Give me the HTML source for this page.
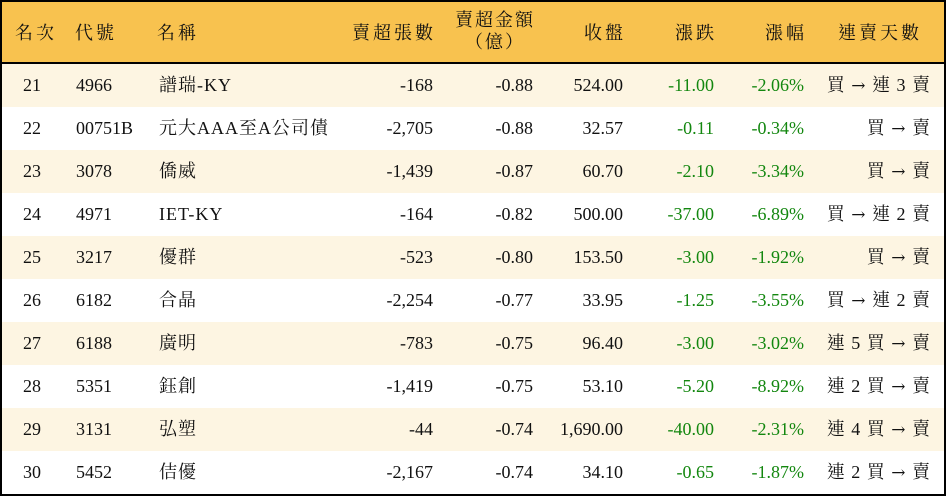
<!DOCTYPE html>
<html><head><meta charset="utf-8"><style>
body{margin:0;width:946px;height:496px;overflow:hidden;background:#fff;font-family:"Liberation Serif","Noto Serif CJK TC","Noto Serif CJK SC",serif;font-size:18px;color:#111}
.wrap{position:absolute;left:0;top:0;width:942px;height:492px;border:2px solid #000}
.hd{position:absolute;left:0;top:0;width:942px;height:60px;background:#f8c24f;border-bottom:2px solid #000}
.row{position:absolute;left:0;width:942px;height:43px}
.odd{background:#fdf5e2}
.c{position:absolute;top:0;line-height:43px;white-space:nowrap}
.hd .c{line-height:62px;letter-spacing:3px}
.hd .r{letter-spacing:3px;margin-right:-3px}
.r{text-align:right}
.g{color:#13870f}
.a{font-family:"DejaVu Serif",serif;font-size:17px}
</style></head><body><div class="wrap">
<div class="hd">
<div class="c" style="left:13px">名次</div>
<div class="c" style="left:73px">代號</div>
<div class="c" style="left:155px">名稱</div>
<div class="c r" style="right:511px">賣超張數</div>
<div class="c" style="left:453px;top:7px;line-height:22px;text-align:center;width:80px;letter-spacing:2px">賣超金額<br>（億）</div>
<div class="c r" style="right:321px">收盤</div>
<div class="c r" style="right:230px">漲跌</div>
<div class="c r" style="right:140px">漲幅</div>
<div class="c" style="left:836px">連賣天數</div>
</div>
<div id="rows"></div>
</div>
<script>
var d=[["21","4966","譜瑞-KY","-168","-0.88","524.00","-11.00","-2.06%","買 → 連 3 賣"],
["22","00751B","元大AAA至A公司債","-2,705","-0.88","32.57","-0.11","-0.34%","買 → 賣"],
["23","3078","僑威","-1,439","-0.87","60.70","-2.10","-3.34%","買 → 賣"],
["24","4971","IET-KY","-164","-0.82","500.00","-37.00","-6.89%","買 → 連 2 賣"],
["25","3217","優群","-523","-0.80","153.50","-3.00","-1.92%","買 → 賣"],
["26","6182","合晶","-2,254","-0.77","33.95","-1.25","-3.55%","買 → 連 2 賣"],
["27","6188","廣明","-783","-0.75","96.40","-3.00","-3.02%","連 5 買 → 賣"],
["28","5351","鈺創","-1,419","-0.75","53.10","-5.20","-8.92%","連 2 買 → 賣"],
["29","3131","弘塑","-44","-0.74","1,690.00","-40.00","-2.31%","連 4 買 → 賣"],
["30","5452","佶優","-2,167","-0.74","34.10","-0.65","-1.87%","連 2 買 → 賣"]];
var h="";
d.forEach(function(r,i){
var t=r[8].replace("→",'<span class="a">→</span>');
h+='<div class="row'+(i%2==0?' odd':'')+'" style="top:'+(62+i*43)+'px">'+
'<div class="c" style="left:21px">'+r[0]+'</div>'+
'<div class="c" style="left:74px">'+r[1]+'</div>'+
'<div class="c" style="left:157px;letter-spacing:1px">'+r[2]+'</div>'+
'<div class="c r" style="right:511px">'+r[3]+'</div>'+
'<div class="c r" style="right:411px">'+r[4]+'</div>'+
'<div class="c r" style="right:321px">'+r[5]+'</div>'+
'<div class="c r g" style="right:230px">'+r[6]+'</div>'+
'<div class="c r g" style="right:140px">'+r[7]+'</div>'+
'<div class="c r" style="right:14px;word-spacing:2px">'+t+'</div></div>';});
document.getElementById("rows").outerHTML=h;
</script>
</body></html>
